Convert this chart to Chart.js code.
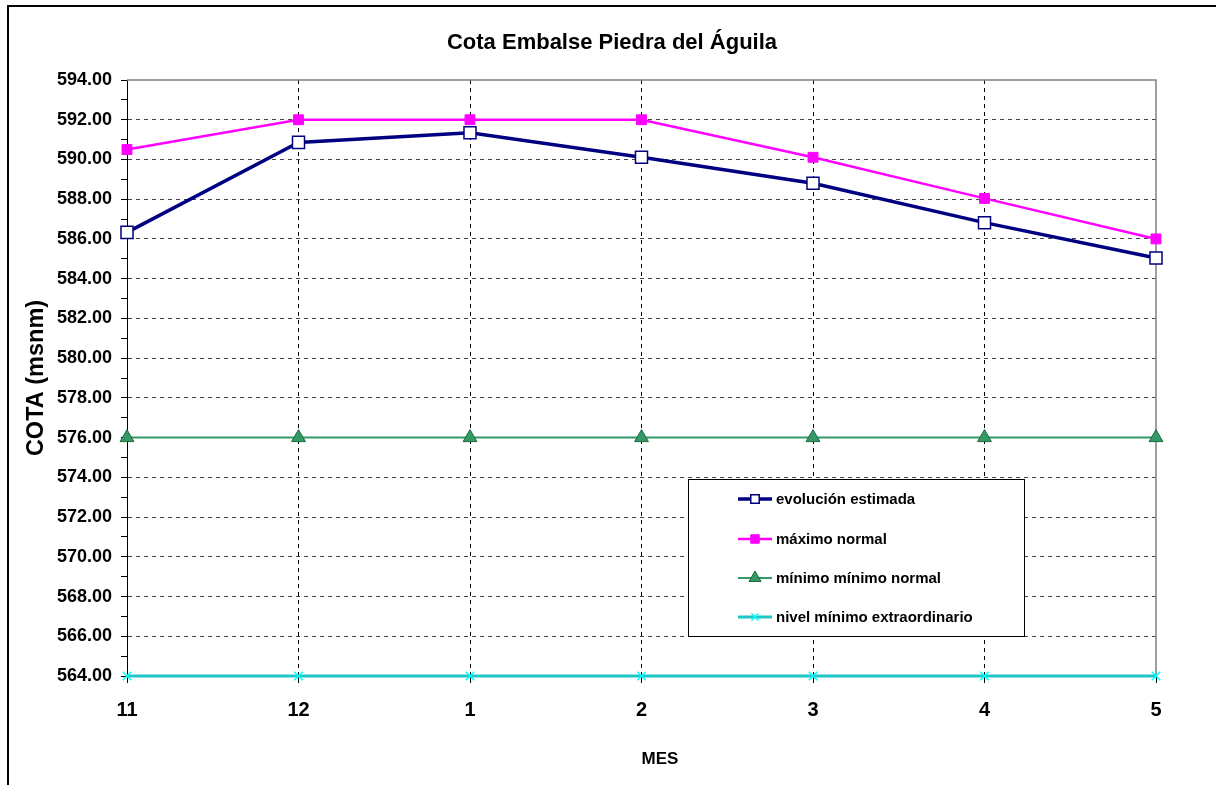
<!DOCTYPE html>
<html>
<head>
<meta charset="utf-8">
<script src="https://cdn.jsdelivr.net/npm/chart.js@4/dist/chart.umd.min.js"></script>
<style>
    html, body { margin: 0; padding: 0; background: #fff; overflow: hidden; }
    #frame { position: absolute; left: 7px; top: 5px; width: 2000px; height: 2000px; border: 2px solid #000; }
    #cota { position: absolute; left: 0; top: 0; }
</style>
</head>
<body>
<div id="frame"></div>
<canvas id="cota" width="1216" height="785"></canvas>
<script>
const FONT = '"Liberation Sans", Arial, sans-serif';

const meses = ['11', '12', '1', '2', '3', '4', '5'];
const evolucionEstimada = [586.33, 590.86, 591.35, 590.11, 588.80, 586.82, 585.04];
const maximoNormal = [590.50, 592.00, 592.00, 592.00, 590.11, 588.04, 586.00];
const minimoNormal = [576.00, 576.00, 576.00, 576.00, 576.00, 576.00, 576.00];
const nivelMinimoExtra = [564.00, 564.00, 564.00, 564.00, 564.00, 564.00, 564.00];

// borde gris arriba y a la derecha del area de trazado
const plotBorder = {
    id: 'plotBorder',
    beforeDatasetsDraw(chart) {
        const { ctx, chartArea: a } = chart;
        ctx.save();
        ctx.strokeStyle = '#808080';
        ctx.lineWidth = 1.5;
        ctx.beginPath();
        ctx.moveTo(a.left, a.top);
        ctx.lineTo(a.right, a.top);
        ctx.lineTo(a.right, a.bottom);
        ctx.stroke();
        ctx.restore();
    }
};

// leyenda en recuadro dentro del grafico, titulos como en Excel
const boxLegend = {
    id: 'boxLegend',
    afterDraw(chart) {
        const ctx = chart.ctx;
        const box = { x: 688.5, y: 479.5, w: 336, h: 157 };
        ctx.save();
        ctx.fillStyle = '#fff';
        ctx.fillRect(box.x, box.y, box.w, box.h);
        ctx.strokeStyle = '#000';
        ctx.lineWidth = 1;
        ctx.strokeRect(box.x, box.y, box.w, box.h);

        const rows = [499, 539, 578, 617];
        chart.data.datasets.forEach((ds, i) => {
            const y = rows[i];
            ctx.strokeStyle = ds.borderColor;
            ctx.lineWidth = ds.borderWidth;
            ctx.beginPath();
            ctx.moveTo(738, y);
            ctx.lineTo(772, y);
            ctx.stroke();

            ctx.fillStyle = ds.pointBackgroundColor;
            ctx.strokeStyle = ds.pointBorderColor;
            ctx.lineWidth = ds.pointBorderWidth;
            Chart.helpers.drawPoint(ctx, {
                pointStyle: ds.pointStyle,
                radius: ds.legendRadius,
                rotation: 0,
                borderWidth: ds.pointBorderWidth
            }, 755, y);

            ctx.fillStyle = '#000';
            ctx.font = 'bold 15px ' + FONT;
            ctx.textBaseline = 'middle';
            ctx.textAlign = 'left';
            ctx.fillText(ds.label, 776, y + 1);
        });

        ctx.fillStyle = '#000';
        ctx.textAlign = 'center';
        ctx.textBaseline = 'middle';
        ctx.font = 'bold 22px ' + FONT;
        ctx.fillText('Cota Embalse Piedra del Águila', 612, 43);
        ctx.font = 'bold 17px ' + FONT;
        ctx.fillText('MES', 660, 759);
        ctx.restore();
    }
};

new Chart(document.getElementById('cota'), {
    type: 'line',
    data: {
        labels: meses,
        datasets: [
            {
                label: 'evolución estimada',
                data: evolucionEstimada,
                borderColor: '#000080',
                borderWidth: 3.5,
                pointStyle: 'rect',
                pointRadius: 8.5,
                legendRadius: 6,
                pointBackgroundColor: '#fff',
                pointBorderColor: '#000080',
                pointBorderWidth: 1.5,
                clip: false,
                tension: 0
            },
            {
                label: 'máximo normal',
                data: maximoNormal,
                borderColor: '#ff00ff',
                borderWidth: 2.5,
                pointStyle: 'rect',
                pointRadius: 7,
                legendRadius: 6,
                pointBackgroundColor: '#ff00ff',
                pointBorderColor: '#ff00ff',
                pointBorderWidth: 1,
                clip: false,
                tension: 0
            },
            {
                label: 'mínimo mínimo normal',
                data: minimoNormal,
                borderColor: '#339966',
                borderWidth: 2,
                pointStyle: 'triangle',
                pointRadius: 8,
                legendRadius: 7,
                pointBackgroundColor: '#339966',
                pointBorderColor: '#1e6b3c',
                pointBorderWidth: 1,
                clip: false,
                tension: 0
            },
            {
                label: 'nivel mínimo extraordinario',
                data: nivelMinimoExtra,
                borderColor: '#1cc8c8',
                borderWidth: 3,
                pointStyle: 'crossRot',
                pointRadius: 6,
                legendRadius: 5,
                pointBackgroundColor: '#00ffff',
                pointBorderColor: '#00ffff',
                pointBorderWidth: 1.5,
                clip: false,
                tension: 0
            }
        ]
    },
    options: {
        responsive: false,
        animation: false,
        layout: { padding: { left: 0, right: 60, top: 80, bottom: 0 } },
        plugins: {
            legend: { display: false },
            tooltip: { enabled: false },
            title: { display: false }
        },
        scales: {
            x: {
                offset: false,
                afterFit: (s) => { s.height = 109; },
                grid: {
                    color: (c) => c.index === 6 ? 'transparent' : '#000',
                    tickColor: '#000',
                    tickLength: 7,
                    lineWidth: 1
                },
                border: { display: true, color: '#000', width: 1, dash: [4, 4] },
                ticks: {
                    color: '#000',
                    padding: 15,
                    font: { family: FONT, size: 20, weight: 'bold' }
                }
            },
            y: {
                min: 564,
                max: 594,
                afterFit: (s) => { s.width = 127; },
                grid: {
                    color: (c) => {
                        const v = c.tick ? c.tick.value : 0;
                        if (v === 594 || v % 2 !== 0) return 'transparent';
                        return '#444';
                    },
                    tickColor: '#000',
                    tickLength: 6,
                    lineWidth: 1
                },
                border: { display: true, color: '#000', width: 1, dash: [4, 4] },
                ticks: {
                    stepSize: 1,
                    autoSkip: false,
                    color: '#000',
                    padding: 9,
                    font: { family: FONT, size: 18, weight: 'bold' },
                    callback: (v) => v % 2 === 0 ? v.toFixed(2) : ''
                },
                title: {
                    display: true,
                    text: 'COTA (msnm)',
                    color: '#000',
                    padding: { top: 22, bottom: 0 },
                    font: { family: FONT, size: 23.5, weight: 'bold' }
                }
            }
        }
    },
    plugins: [plotBorder, boxLegend]
});
</script>
</body>
</html>
